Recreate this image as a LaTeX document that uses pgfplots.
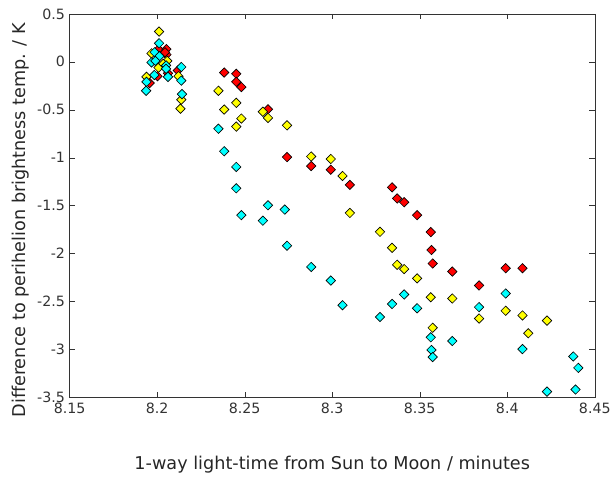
\documentclass[border=0pt]{standalone}
\usepackage{pgfplots}
\pgfplotsset{compat=1.18}
\usepackage{fontspec}
\setmainfont{DejaVu Sans}
\definecolor{mred}{RGB}{255,0,0}
\definecolor{myellow}{RGB}{255,255,0}
\definecolor{mcyan}{RGB}{0,255,255}
\begin{document}
\begin{tikzpicture}
\begin{axis}[
  scale only axis,
  width=396pt,
  height=289pt,
  xmin=8.15, xmax=8.45,
  ymin=-3.5, ymax=0.5,
  xtick={8.15,8.2,...,8.45},
  ytick={-3.5,-3,...,0.5},
  xticklabels={8.15,8.2,8.25,8.3,8.35,8.4,8.45},
  yticklabels={-3.5,-3,-2.5,-2,-1.5,-1,-0.5,0,0.5},
  tick align=inside,
  major tick length=4pt,
  axis line style={black!80},
  tick style={black!80},
  ticklabel style={font=\fontsize{10.7}{13}\selectfont, text=black!80},
  xticklabel style={yshift=-1pt},
  label style={font=\fontsize{13.3}{16}\selectfont, text=black!85},
  xlabel={1-way light-time from Sun to Moon / minutes},
  ylabel={Difference to perihelion brightness temp. / K},
  xlabel style={yshift=-25pt},
  ylabel style={yshift=-1pt, xshift=-11pt},
  dot/.style={only marks, mark=square*, mark size=2.5pt,
    mark options={draw=black, line width=0.5pt, rotate=45, fill=#1}},
]
% red series
\addplot[dot=mred] coordinates {
(8.2008,0.13) (8.2053,0.133) (8.2053,0.075) (8.2045,0.10) (8.2118,-0.09)
(8.1957,-0.221) (8.2002,-0.15) (8.2062,-0.12)
(8.2383,-0.112) (8.2452,-0.125) (8.2452,-0.209) (8.2481,-0.263) (8.2633,-0.495)
(8.2742,-0.994) (8.288,-1.088) (8.2992,-1.126) (8.3101,-1.284) (8.3342,-1.31)
(8.3371,-1.426) (8.3411,-1.465) (8.3485,-1.600) (8.3563,-1.777) (8.3567,-1.964)
(8.3574,-2.105) (8.3686,-2.189) (8.3839,-2.334) (8.3991,-2.154) (8.4087,-2.154)
};
% yellow series
\addplot[dot=myellow] coordinates {
(8.2011,0.316) (8.1968,0.088) (8.2008,-0.06) (8.2058,0.01) (8.1939,-0.157)
(8.2035,-0.02) (8.2122,-0.15) (8.2138,-0.395) (8.2133,-0.489)
(8.235,-0.302) (8.2383,-0.498) (8.2452,-0.428) (8.2452,-0.676) (8.2481,-0.592)
(8.2604,-0.521) (8.2633,-0.585) (8.2742,-0.663) (8.288,-0.988) (8.2992,-1.014)
(8.3059,-1.191) (8.3101,-1.577) (8.3273,-1.774) (8.3342,-1.941) (8.3371,-2.118)
(8.3411,-2.163) (8.3485,-2.26) (8.3563,-2.457) (8.3686,-2.47) (8.3574,-2.775)
(8.3839,-2.679) (8.3991,-2.598) (8.4087,-2.647) (8.412,-2.833) (8.4227,-2.701)
};
% cyan series
\addplot[dot=mcyan] coordinates {
(8.2011,0.194) (8.1986,0.10) (8.2013,0.059) (8.1968,-0.006) (8.199,0.01)
(8.2051,-0.038) (8.2051,-0.073) (8.2138,-0.054) (8.2062,-0.157) (8.1984,-0.138)
(8.2138,-0.196) (8.1939,-0.209) (8.1937,-0.302) (8.2142,-0.337)
(8.235,-0.698) (8.2383,-0.933) (8.2452,-1.097) (8.2452,-1.32) (8.2481,-1.60)
(8.2633,-1.497) (8.2604,-1.658) (8.2729,-1.542) (8.2742,-1.919) (8.288,-2.141)
(8.2992,-2.283) (8.3059,-2.54) (8.3273,-2.663) (8.3342,-2.527) (8.3411,-2.428)
(8.3485,-2.572) (8.3563,-2.875) (8.3567,-3.007) (8.3574,-3.081) (8.3686,-2.914)
(8.3839,-2.56) (8.3991,-2.418) (8.4087,-2.998) (8.4227,-3.442) (8.4377,-3.075)
(8.4406,-3.194) (8.439,-3.42)
};
\end{axis}
\path ([shift={(-52.5pt,-59.25pt)}]current axis.south west) rectangle ([shift={(12.75pt,10.5pt)}]current axis.north east);
\end{tikzpicture}
\end{document}
